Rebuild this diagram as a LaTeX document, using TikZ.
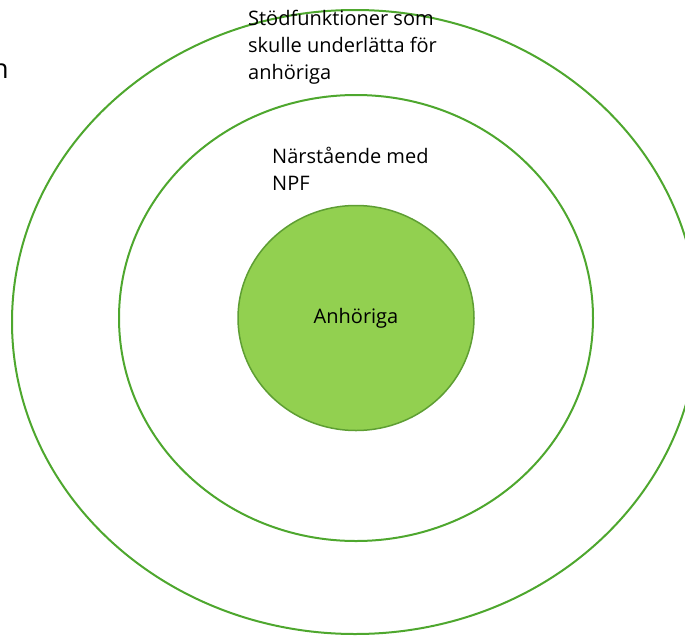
\documentclass[tikz,border=0pt]{standalone}
\usepackage{fontspec}
\setmainfont{Open Sans}
\usetikzlibrary{shapes.geometric}
\definecolor{ringgreen}{HTML}{4EA72E}
\definecolor{fillgreen}{HTML}{92D050}
\definecolor{edgegreen}{HTML}{5E9E33}
\begin{document}
\begin{tikzpicture}[x=1pt,y=-1pt,
  ring/.style={draw=ringgreen,line width=2pt},
  lbl/.style={anchor=north west,inner sep=0pt,align=left,font=\fontsize{20}{27}\selectfont,text=black}]
\useasboundingbox (0,0) rectangle (685,637);
\clip (0,0) rectangle (685,637);
\draw[ring] (355,322) ellipse[x radius=343,y radius=312];
\draw[ring] (356,318) ellipse[x radius=237,y radius=223];
\node[ellipse,draw=edgegreen,line width=1.5pt,fill=fillgreen,minimum width=236pt,minimum height=225pt,inner sep=0pt,
  font=\fontsize{20}{24}\selectfont] (core) at (356,318) {Anhöriga};
\node[lbl] (outer) at (248,10) {Stödfunktioner som\\skulle underlätta för\\anhöriga};
\node[lbl] (mid) at (272,147) {Närstående med\\NPF};
\node[anchor=base east,inner sep=0pt,font=\fontsize{27}{30}\selectfont] (edge) at (9,78) {n};
\end{tikzpicture}
\end{document}
